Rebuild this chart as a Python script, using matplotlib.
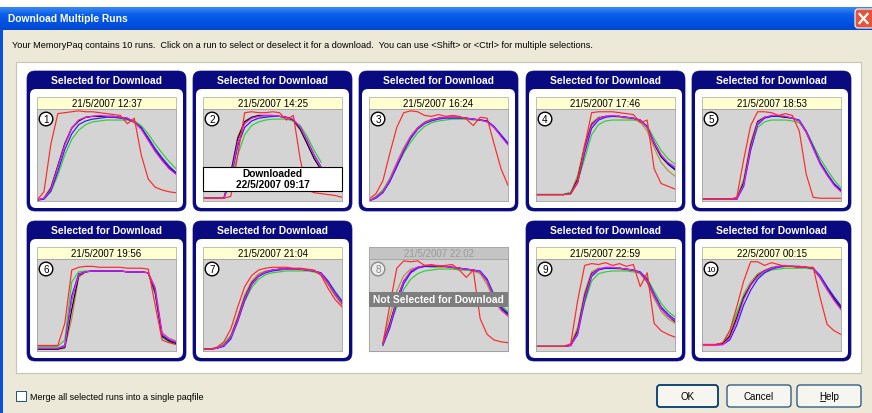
import numpy as np
import matplotlib
matplotlib.use("Agg")
import matplotlib.pyplot as plt
from matplotlib.patches import FancyBboxPatch, Rectangle, Circle

plt.rcParams['font.family'] = ['Liberation Sans', 'DejaVu Sans']

nan = np.nan

# ---------------- data ----------------
TIME = [0, 0.05, 0.1, 0.15, 0.2, 0.25, 0.3, 0.35, 0.4, 0.45, 0.5,
        0.55, 0.6, 0.65, 0.7, 0.75, 0.8, 0.85, 0.9, 0.95, 1.0]

RUN_DATES = ["21/5/2007 12:37", "21/5/2007 14:25", "21/5/2007 16:24",
             "21/5/2007 17:46", "21/5/2007 18:53", "21/5/2007 19:56",
             "21/5/2007 21:04", "21/5/2007 22:02", "21/5/2007 22:59",
             "22/5/2007 00:15"]
RUN_SELECTED = [True, True, True, True, True, True, True, False, True, True]
DOWNLOADED_RUN = 2
DOWNLOADED_DATE = "22/5/2007 09:17"

OLIVE = [
    [1, 3, 15, 39, 63, 80, 88, 91, 92, 92, 92, 91, 91, 89, 85, 78, 66, 54, 44, 36, 30],
    [3, 3, 3, 3, 32, 70, 87, 91, 92, 92, 92, 92, 90, 87, 77, 62, 46, 34, nan, nan, nan],
    [0, 4, 11, 25, 42, 58, 71, 80, 86, 89, 90, 91, 91, 91, 90, 89, 88, 86, 80, 71, 62],
    [7, 7, 7, 7, 7, 9, 28, 62, 85, 91, 92, 92, 91, 90, 89, 86, 76, 58, 42, 33, 27],
    [2, 2, 2, 2, 2, 3, 24, 64, 87, 91, 92, 92, 91, 90, 87, 74, 57, 40, 28, 18, 11],
    [2, 2, 2, 2, 3, 35, 80, 86, 87, 87, 87, 87, 87, 86, 86, 86, 85, 70, 20, 14, 11],
    [2, 2, 3, 7, 17, 38, 61, 76, 84, 87, 88, 89, 89, 89, 88, 88, 86, 83, 72, 60, 50],
    [nan, nan, 10, 38, 65, 82, 89, 91, 92, 91, 91, 91, 90, 89, 88, 87, 84, 72, 55, 44, 38],
    [5, 5, 5, 5, 5, 7, 26, 64, 86, 90, 90, 90, 89, 88, 87, 84, 74, 57, 43, 35, 30],
    [7, 7, 7, 8, 18, 40, 62, 75, 84, 88, 91, 92, 92, 92, 91, 91, 89, 79, 66, 55, 45],
]
GREEN = [
    [1, 2, 10, 28, 50, 67, 77, 83, 86, 87, 88, 88, 88, 88, 87, 82, 73, 62, 52, 43, 35],
    [3, 3, 3, 3, 20, 50, 72, 82, 86, 88, 89, 89, 89, 87, 82, 70, 55, 42, nan, nan, nan],
    [0, 5, 12, 24, 38, 52, 64, 74, 81, 85, 87, 88, 89, 89, 89, 88, 88, 86, 80, 71, 62],
    [7, 7, 7, 7, 7, 10, 22, 46, 72, 83, 87, 88, 88, 88, 88, 87, 82, 68, 55, 46, 40],
    [2, 2, 2, 2, 2, 2, 22, 56, 80, 86, 88, 88, 88, 87, 85, 76, 61, 46, 34, 23, 14],
    [5, 5, 5, 5, 12, 75, 86, 87, 87, 87, 87, 87, 87, 86, 86, 86, 85, 62, 15, 10, 8],
    [2, 2, 4, 8, 17, 34, 54, 69, 78, 83, 85, 86, 87, 87, 87, 87, 86, 84, 76, 65, 55],
    [nan, nan, 9, 27, 48, 67, 78, 84, 87, 88, 89, 89, 89, 88, 88, 87, 86, 78, 62, 50, 43],
    [5, 5, 5, 5, 5, 7, 22, 52, 76, 84, 86, 87, 87, 87, 86, 85, 79, 65, 52, 43, 37],
    [7, 7, 7, 9, 22, 42, 60, 72, 80, 85, 88, 89, 90, 90, 90, 90, 89, 81, 69, 58, 48],
]
BLUE = [
    [1, 2, 11, 32, 56, 73, 83, 87, 89, 90, 91, 91, 90, 89, 86, 80, 69, 57, 47, 38, 31],
    [3, 3, 3, 3, 24, 60, 80, 87, 90, 91, 92, 92, 91, 88, 80, 66, 50, 37, nan, nan, nan],
    [0, 3, 9, 21, 37, 54, 68, 78, 84, 87, 89, 90, 90, 90, 90, 89, 88, 87, 81, 72, 63],
    [7, 7, 7, 7, 7, 8, 20, 52, 79, 88, 91, 92, 92, 91, 90, 88, 81, 64, 50, 41, 35],
    [2, 2, 2, 2, 2, 2, 16, 55, 83, 90, 92, 92, 92, 90, 88, 76, 59, 42, 30, 19, 12],
    [3, 3, 3, 3, 6, 60, 84, 86, 87, 87, 87, 87, 87, 86, 86, 86, 85, 66, 17, 12, 9],
    [2, 2, 3, 5, 13, 32, 55, 72, 81, 85, 87, 88, 89, 89, 89, 88, 87, 85, 76, 64, 54],
    [nan, nan, 6, 25, 52, 73, 85, 90, 92, 92, 92, 92, 91, 90, 89, 88, 87, 78, 60, 48, 41],
    [5, 5, 5, 5, 5, 6, 18, 55, 81, 88, 90, 90, 90, 89, 88, 86, 78, 62, 48, 40, 34],
    [7, 7, 7, 7, 12, 28, 50, 66, 78, 85, 89, 91, 92, 92, 92, 91, 90, 82, 70, 59, 49],
]
MAGENTA = [
    [1, 3, 13, 37, 61, 79, 88, 91, 92, 93, 92, 92, 91, 90, 86, 78, 66, 54, 44, 35, 29],
    [3, 3, 3, 3, 27, 64, 84, 90, 92, 93, 93, 92, 91, 89, 80, 65, 49, 36, nan, nan, nan],
    [0, 4, 10, 23, 40, 56, 70, 79, 85, 88, 90, 91, 91, 91, 90, 89, 88, 86, 80, 70, 61],
    [7, 7, 7, 7, 7, 8, 22, 56, 82, 90, 92, 93, 92, 91, 90, 88, 80, 63, 50, 42, 37],
    [2, 2, 2, 2, 2, 2, 18, 58, 85, 91, 93, 93, 92, 90, 87, 75, 57, 40, 28, 17, 10],
    [3, 3, 3, 3, 5, 55, 83, 86, 87, 87, 87, 87, 87, 86, 86, 86, 85, 68, 19, 13, 10],
    [2, 2, 3, 6, 15, 34, 57, 73, 82, 86, 88, 89, 89, 89, 89, 88, 87, 84, 74, 62, 52],
    [nan, nan, 8, 28, 55, 76, 87, 91, 93, 93, 93, 92, 91, 90, 89, 88, 86, 76, 58, 45, 38],
    [5, 5, 5, 5, 5, 6, 20, 58, 83, 89, 91, 91, 90, 89, 88, 85, 76, 60, 46, 38, 33],
    [6, 6, 6, 7, 14, 33, 56, 71, 81, 87, 90, 92, 93, 92, 91, 91, 90, 80, 67, 55, 45],
]
BLACK = [
    [1, 3, 14, 38, 62, 79, 87, 91, 92, 92, 92, 92, 91, 90, 86, 79, 67, 55, 45, 36, 30],
    [3, 3, 3, 3, 30, 68, 86, 91, 93, 93, 93, 92, 91, 88, 78, 62, 46, 34, nan, nan, nan],
    [0, 4, 10, 22, 39, 55, 69, 79, 85, 88, 90, 91, 91, 91, 90, 89, 88, 87, 80, 71, 62],
    [7, 7, 7, 7, 7, 8, 24, 58, 83, 90, 92, 92, 92, 91, 90, 88, 80, 62, 48, 40, 34],
    [2, 2, 2, 2, 2, 2, 20, 60, 86, 91, 92, 92, 91, 90, 87, 75, 58, 41, 29, 18, 11],
    [2, 2, 2, 2, 4, 45, 82, 86, 87, 87, 87, 87, 87, 86, 86, 86, 85, 64, 16, 11, 8],
    [2, 2, 3, 6, 15, 35, 58, 74, 82, 86, 88, 89, 89, 89, 89, 88, 87, 84, 74, 62, 52],
    [nan, nan, 8, 30, 56, 76, 86, 91, 92, 92, 92, 92, 91, 90, 89, 88, 86, 76, 58, 46, 40],
    [5, 5, 5, 5, 5, 6, 22, 60, 84, 89, 90, 90, 90, 89, 88, 85, 76, 60, 46, 38, 32],
    [7, 7, 7, 8, 16, 36, 58, 72, 82, 87, 90, 92, 92, 92, 91, 91, 90, 80, 68, 57, 47],
]
RED = [
    [1, 10, 62, 95, 96, 97, 98, 97, 97, 96, 95, 94, 93, 84, 90, 50, 24, 15, 12, 10, 9],
    [3, 3, 3, 3, 5, 50, 96, 97, 96, 96, 97, 96, 88, 93, 45, 12, 9, 8, 7, 6, 4],
    [2, 8, 22, 52, 80, 96, 98, 97, 93, 92, 94, 92, 93, 92, 89, 82, 91, 90, 62, 35, 17],
    [7, 7, 7, 7, 7, 8, 20, 60, 96, 97, 97, 97, 96, 95, 94, 85, 88, 35, 19, 16, 13],
    [2, 2, 2, 2, 2, 4, 45, 82, 97, 97, 96, 93, 95, 93, 76, 29, 4, 3, 3, 3, 3],
    [6, 6, 6, 6, 30, 88, 91, 92, 92, 91, 91, 91, 91, 90, 90, 90, 89, 50, 12, 9, 7],
    [2, 2, 4, 10, 24, 48, 70, 82, 88, 90, 91, 91, 91, 90, 90, 89, 88, 82, 68, 56, 48],
    [nan, nan, 8, 50, 90, 98, 97, 98, 93, 94, 92, 93, 94, 88, 80, 88, 35, 18, 12, 10, 9],
    [5, 5, 5, 5, 5, 8, 55, 93, 95, 94, 96, 93, 95, 92, 94, 70, 85, 30, 22, 18, 15],
    [7, 7, 7, 9, 22, 48, 76, 97, 97, 93, 96, 94, 92, 92, 92, 91, 91, 58, 29, 22, 18],
]

INSTRUCTION = ("Your MemoryPaq contains 10 runs.  Click on a run to select or deselect it "
               "for a download.  You can use <Shift> or <Ctrl> for multiple selections.")

# ---------------- figure ----------------
W, H = 872, 414
fig = plt.figure(figsize=(W / 100, H / 100), dpi=100)
bg = fig.add_axes([0, 0, 1, 1])
bg.set_xlim(0, W); bg.set_ylim(H, 0); bg.axis('off')
ov = fig.add_axes([0, 0, 1, 1], zorder=5)
ov.set_xlim(0, W); ov.set_ylim(H, 0); ov.axis('off'); ov.patch.set_alpha(0)

NAVY = '#0A0A80'
BEIGE = '#ECE9D8'

# window chrome
bg.add_patch(Rectangle((0, 0), W, H, fc='white', ec='none'))
bg.add_patch(Rectangle((0, 30), W, H - 30, fc=BEIGE, ec='none'))
grad = np.linspace(0, 1, 64).reshape(-1, 1)
cmap = matplotlib.colors.LinearSegmentedColormap.from_list(
    'xp', ['#3A8AF6', '#0A5DE8', '#0052E2', '#0048D2'])
bg.imshow(grad, extent=(0, W, 31, 8), aspect='auto', cmap=cmap, zorder=1)
bg.add_patch(Rectangle((0, 30), 3, H - 30, fc='#0A50DC', ec='none', zorder=1))
bg.text(8, 19.5, "Download Multiple Runs", color='white', fontsize=7.4,
        fontweight='bold', va='center', ha='left', zorder=2)
bg.add_patch(FancyBboxPatch((855, 10), 20, 19, boxstyle="round,pad=0,rounding_size=3",
                            fc='#E2553A', ec='white', lw=0.8, zorder=2))
bg.plot([859.5, 867.5], [15, 24], color='white', lw=1.6, zorder=3)
bg.plot([859.5, 867.5], [24, 15], color='white', lw=1.6, zorder=3)

bg.text(12, 46, INSTRUCTION, fontsize=6.6, va='center', ha='left', color='black')

# white selection area
bg.add_patch(Rectangle((16, 63), 845, 311, fc='white', ec='#C8C4B8', lw=0.8))

PANEL_LEFT = [27, 193, 359, 526, 692]
ROW_TOP = [72, 222]
PW, PH = 159, 140

LINE_SETS = [(OLIVE, '#A89838'), (GREEN, '#30D030'), (BLACK, '#000000'),
             (BLUE, '#2020FF'), (MAGENTA, '#FF10FF'), (RED, '#FF2828')]

for i in range(10):
    r, c = divmod(i, 5)
    px, py = PANEL_LEFT[c], ROW_TOP[r]
    pl, pr = px + 10, px + 149
    pt, pb = py + 38, py + 130
    sel = RUN_SELECTED[i]
    if sel:
        bg.add_patch(FancyBboxPatch((px, py), PW, PH,
                                    boxstyle="round,pad=0,rounding_size=8",
                                    fc=NAVY, ec=NAVY, lw=0.5, zorder=2))
        bg.add_patch(FancyBboxPatch((px + 3, py + 18), PW - 6, PH - 21,
                                    boxstyle="round,pad=0,rounding_size=6",
                                    fc='white', ec='none', zorder=3))
        bg.text(px + PW / 2, py + 9.5, "Selected for Download", color='white',
                fontsize=7.4, fontweight='bold', ha='center', va='center', zorder=4)
        bg.add_patch(Rectangle((pl, py + 26), pr - pl, 12, fc='#FFFFD2',
                               ec='#B8B8A0', lw=0.6, zorder=4))
        bg.text((pl + pr) / 2, py + 32.3, RUN_DATES[i], fontsize=7.0,
                ha='center', va='center', color='black', zorder=5)
    else:
        bg.add_patch(Rectangle((pl, py + 26), pr - pl, pb - py - 26, fc='#D4D4D4',
                               ec='#A8A8A8', lw=0.8, zorder=2))
        bg.add_patch(Rectangle((pl, py + 26), pr - pl, 12, fc='#C4C4C4',
                               ec='#A8A8A8', lw=0.6, zorder=3))
        bg.text((pl + pr) / 2, py + 32.3, RUN_DATES[i], fontsize=7.0,
                ha='center', va='center', color='#9A9A9A', zorder=5)

    ax = fig.add_axes([pl / W, 1 - pb / H, (pr - pl) / W, (pb - pt) / H], zorder=3)
    ax.set_facecolor('#D4D4D4')
    ax.set_xlim(0, 1); ax.set_ylim(0, 100)
    ax.set_xticks([]); ax.set_yticks([])
    for s in ax.spines.values():
        s.set_color('#A0A0A0'); s.set_linewidth(0.6)
    for arr, col in LINE_SETS:
        ax.plot(TIME, arr[i], color=col, lw=0.85, solid_joinstyle='round')

    # run number circle
    if sel:
        ov.add_patch(Circle((pl + 9, pt + 10), 6.8, fc='white', ec='black', lw=1.0))
        ncol = 'black'
    else:
        ov.add_patch(Circle((pl + 9, pt + 10), 6.8, fc='#ECECEC', ec='#8A8A8A', lw=1.0))
        ncol = '#8A8A8A'
    ov.text(pl + 9, pt + 10.3, str(i + 1), fontsize=7.2 if i < 9 else 6.0,
            ha='center', va='center', color=ncol)

    if i + 1 == DOWNLOADED_RUN:
        ov.add_patch(Rectangle((pl, py + 96), pr - pl, 24, fc='white', ec='black', lw=0.8))
        ov.text((pl + pr) / 2, py + 102.5, "Downloaded", fontsize=7.3,
                fontweight='bold', ha='center', va='center')
        ov.text((pl + pr) / 2, py + 113.5, DOWNLOADED_DATE, fontsize=7.3,
                fontweight='bold', ha='center', va='center')
    if not sel:
        ov.add_patch(Rectangle((pl, py + 71), pr - pl, 15, fc='#7E7E7E', ec='none'))
        ov.text((pl + pr) / 2, py + 78.5, "Not Selected for Download", fontsize=7.4,
                fontweight='bold', ha='center', va='center', color='white')

# bottom controls
bg.add_patch(Rectangle((16, 392), 10, 10, fc='white', ec='#1C5180', lw=0.7))
bg.text(30, 397.5, "Merge all selected runs into a single paqfile", fontsize=6.5,
        ha='left', va='center', color='black')

for (bx, bw, lab, default) in [(657, 61, "OK", True), (727, 64, "Cancel", False),
                               (797, 64, "Help", False)]:
    bg.add_patch(FancyBboxPatch((bx, 386), bw, 22, boxstyle="round,pad=0,rounding_size=3",
                                fc='#F6F5F0', ec='#003C74', lw=1.3 if default else 0.8))
    bg.text(bx + bw / 2, 397.5, lab, fontsize=7.0, ha='center', va='center', color='black')
bg.plot([819.8, 824.8], [402.2, 402.2], color='black', lw=0.6)

fig.savefig("out.png", dpi=100)
